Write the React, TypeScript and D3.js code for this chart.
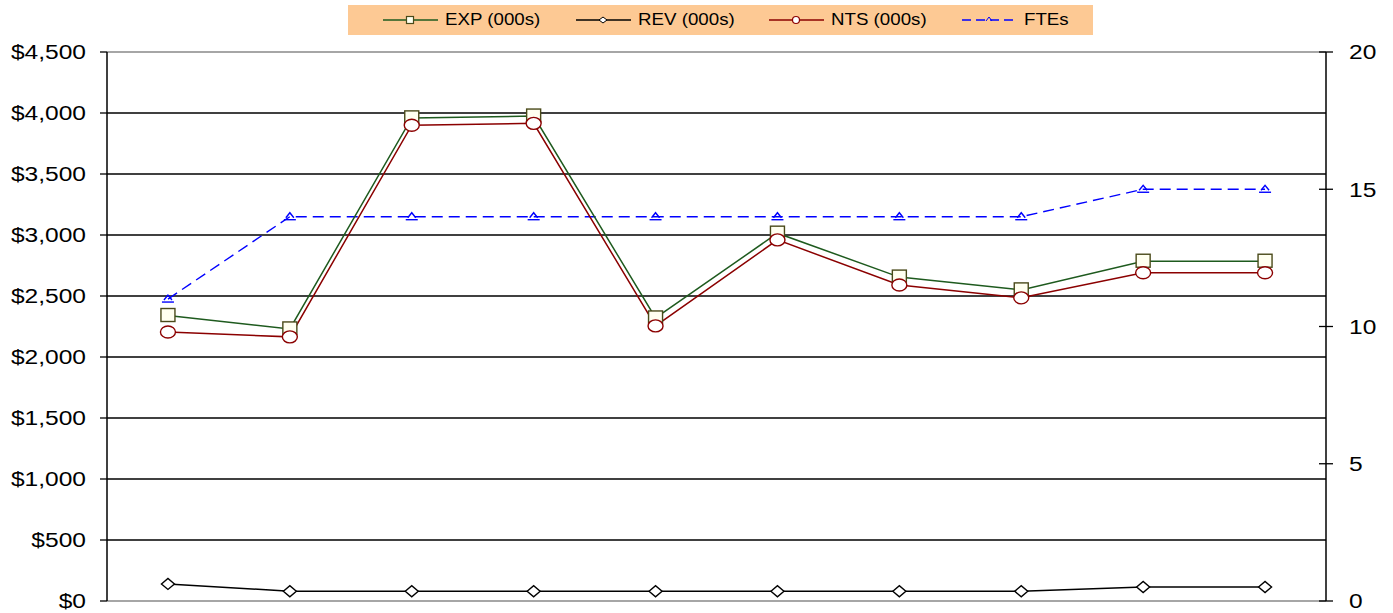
import * as d3 from "d3";

const categories = ["1", "2", "3", "4", "5", "6", "7", "8", "9", "10"];
const expValues = [2340, 2230, 3960, 3975, 2320, 3015, 2655, 2550, 2785, 2785];
const revValues = [140, 80, 80, 80, 80, 80, 80, 80, 115, 115];
const ntsValues = [2205, 2165, 3900, 3915, 2255, 2960, 2590, 2485, 2690, 2690];
const fteValues = [11, 14, 14, 14, 14, 14, 14, 14, 15, 15];
const leftTicks = [0, 500, 1000, 1500, 2000, 2500, 3000, 3500, 4000, 4500];
const rightTicks = [0, 5, 10, 15, 20];

const W = 1393;
const H = 613;
const left = 107;
const right = 1326;
const top = 52;
const bottom = 601;
const font = "'Liberation Sans', Arial, sans-serif";
const sx = 1.17; // text in the reference is a bit wider than Arial

export default function App() {
  const x = d3.scaleBand().domain(categories).range([left, right]);
  const cx = (i: number) => x(categories[i])! + x.bandwidth() / 2;
  const yL = d3.scaleLinear().domain([0, 4500]).range([bottom, top]);
  const yR = d3.scaleLinear().domain([0, 20]).range([bottom, top]);

  const line = (vals: number[], y: d3.ScaleLinear<number, number>) =>
    d3.line<number>().x((_, i) => cx(i)).y((d) => y(d))(vals) || "";

  const fmt = (v: number) => "$" + d3.format(",")(v);

  const square = (px: number, py: number, k: string) => (
    <rect key={k} x={px - 7} y={py - 7} width={14} height={13} fill="#fffff0" stroke="#4a4a1a" strokeWidth={1.4} />
  );
  const circle = (px: number, py: number, k: string) => (
    <ellipse key={k} cx={px} cy={py} rx={7.5} ry={6} fill="#fff" stroke="#8b0000" strokeWidth={1.4} />
  );
  const diamond = (px: number, py: number, k: string) => (
    <path key={k} d={`M${px - 6.5},${py}L${px},${py - 5.5}L${px + 6.5},${py}L${px},${py + 5.5}Z`} fill="#fff" stroke="#000" strokeWidth={1.4} />
  );
  const tri = (px: number, py: number, k: string) => (
    <g key={k}>
      <path d={`M${px - 4},${py + 1}L${px},${py - 4}L${px + 4},${py + 1}`} fill="none" stroke="#0000ff" strokeWidth={1.4} />
      <line x1={px - 6} x2={px + 6} y1={py + 3} y2={py + 3} stroke="#0000ff" strokeWidth={1.4} />
    </g>
  );

  const legend = [
    { name: "EXP (000s)", x0: 383, color: "#1e5a1e", dash: "" },
    { name: "REV (000s)", x0: 576, color: "#000", dash: "" },
    { name: "NTS (000s)", x0: 769, color: "#8b0000", dash: "" },
    { name: "FTEs", x0: 962, color: "#0000ff", dash: "9,5" },
  ];

  const label = (tx: number, ty: number, s: string, anchor: string, size: number, k: string) => (
    <text key={k} transform={`translate(${tx},${ty}) scale(${sx},1)`} dy="0.35em" textAnchor={anchor} fontFamily={font} fontSize={size} fill="#000">
      {s}
    </text>
  );

  return (
    <svg width={W} height={H} style={{ position: "absolute", left: 0, top: 0 }}>
      <rect width={W} height={H} fill="#fff" />
      {/* grid */}
      {leftTicks.map((t) => (
        <line key={"g" + t} x1={left} x2={right} y1={yL(t)} y2={yL(t)} stroke={t === 0 || t === 4500 ? "#888" : "#000"} strokeWidth={1.3} />
      ))}
      {/* left axis */}
      <line x1={left} x2={left} y1={top} y2={bottom} stroke="#000" strokeWidth={1.5} />
      {leftTicks.map((t) => (
        <g key={"l" + t}>
          <line x1={left - 7} x2={left} y1={yL(t)} y2={yL(t)} stroke="#000" strokeWidth={1.3} />
          {label(86, yL(t), fmt(t), "end", 21, "lt" + t)}
        </g>
      ))}
      {/* right axis */}
      <line x1={right} x2={right} y1={top} y2={bottom} stroke="#000" strokeWidth={1.5} />
      {rightTicks.map((t) => (
        <g key={"r" + t}>
          <line x1={right - 7} x2={right + 7} y1={yR(t)} y2={yR(t)} stroke="#000" strokeWidth={1.3} />
          {label(1349, yR(t), String(t), "start", 21, "rt" + t)}
        </g>
      ))}
      {/* series */}
      <path d={line(fteValues, yR)} fill="none" stroke="#0000ff" strokeWidth={1.4} strokeDasharray="11,6" />
      <path d={line(expValues, yL)} fill="none" stroke="#1e5a1e" strokeWidth={1.5} />
      <path d={line(ntsValues, yL)} fill="none" stroke="#8b0000" strokeWidth={1.5} />
      <path d={line(revValues, yL)} fill="none" stroke="#000" strokeWidth={1.5} />
      {fteValues.map((v, i) => tri(cx(i), yR(v), "f" + i))}
      {expValues.map((v, i) => square(cx(i), yL(v), "e" + i))}
      {ntsValues.map((v, i) => circle(cx(i), yL(v), "n" + i))}
      {revValues.map((v, i) => diamond(cx(i), yL(v), "r" + i))}
      {/* legend */}
      <rect x={348} y={5} width={745} height={30} fill="#fdc994" />
      {legend.map((l) => {
        const m = l.x0 + 27;
        return (
          <g key={l.name}>
            <line x1={l.x0} x2={l.x0 + 55} y1={20} y2={20} stroke={l.color} strokeWidth={1.4} strokeDasharray={l.dash} />
            {l.name === "EXP (000s)" ? (
              <rect x={m - 3.5} y={16.5} width={7} height={7} fill="#fffff0" stroke="#4a4a1a" strokeWidth={1.2} />
            ) : l.name === "NTS (000s)" ? (
              <circle cx={m} cy={20} r={3.5} fill="#fff" stroke="#8b0000" strokeWidth={1.2} />
            ) : l.name === "REV (000s)" ? (
              <path d={`M${m - 4},20L${m},17L${m + 4},20L${m},23Z`} fill="#fff" stroke="#000" strokeWidth={1} />
            ) : (
              <path d={`M${m - 3},21L${m},17L${m + 3},21`} fill="none" stroke="#0000ff" strokeWidth={1} />
            )}
            {label(l.x0 + 62, 19.5, l.name, "start", 16, "lg" + l.name)}
          </g>
        );
      })}
    </svg>
  );
}
